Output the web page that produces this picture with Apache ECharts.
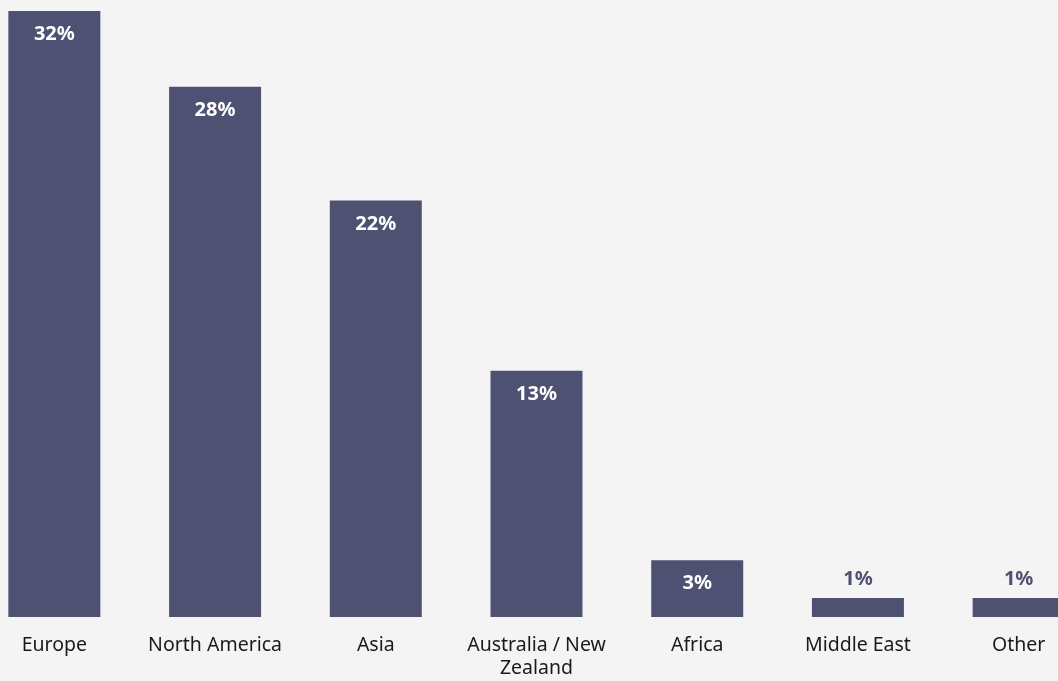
<!DOCTYPE html>
<html><head><meta charset="utf-8">
<script src="https://cdn.jsdelivr.net/npm/echarts@6/dist/echarts.min.js"></script>
<style>html,body{margin:0;padding:0;background:#f4f4f4;overflow:hidden;width:1058px;height:681px;position:relative;}#c{position:absolute;left:-26.3px;top:0;width:1125px;height:681px;}</style>
</head><body><div id="c"></div>
<script>
const categories = ["Europe", "North America", "Asia", "Australia / New\nZealand", "Africa", "Middle East", "Other"];
const values = [32, 28, 22, 13, 3, 1, 1];
const insideThreshold = 2;

const chart = echarts.init(document.getElementById('c'));
const barColor = '#4f5173';
chart.setOption({
  backgroundColor: '#f4f4f4',
  animation: false,
  grid: { left: 0, right: 0, top: 11, bottom: 64, containLabel: false },
  xAxis: {
    type: 'category', data: categories,
    axisLine: { show: false }, axisTick: { show: false },
    axisLabel: { color: '#1a1a1a', fontSize: 19.5, fontFamily: 'Noto Sans', margin: 17, lineHeight: 23, interval: 0 }
  },
  yAxis: { type: 'value', min: 0, max: 32, show: false, splitLine: { show: false } },
  series: [{
    type: 'bar', barWidth: 92,
    data: values.map(v => ({
      value: v,
      label: v > insideThreshold
        ? { show: true, position: 'insideTop', distance: 13.5, color: '#ffffff' }
        : { show: true, position: 'top', distance: 9, color: barColor }
    })),
    itemStyle: { color: barColor },
    label: { show: true, formatter: '{c}%', fontSize: 20, fontWeight: 'bold', fontFamily: 'Noto Sans' }
  }]
});
</script></body></html>
